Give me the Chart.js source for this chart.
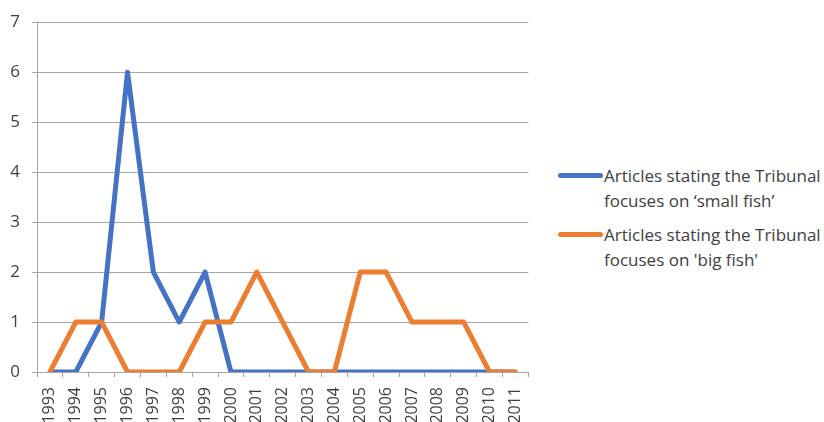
<!DOCTYPE html>
<html>
<head>
<meta charset="utf-8">
<script src="https://cdn.jsdelivr.net/npm/chart.js@4"></script>
<style>
  body { margin: 0; background: #fff; font-family: "Open Sans", sans-serif; }
  #wrap { position: relative; width: 824px; height: 422px; }
  #chartBox { position: absolute; left: 0; top: 0; width: 545px; height: 422px; }
  .legend { position: absolute; left: 558px; color: #404040; font-size: 17px; line-height: 25px; white-space: nowrap; }
  .legend .swatch { position: absolute; left: 0; top: 10px; width: 45px; height: 5px; border-radius: 3px; }
  .legend .text { margin-left: 46px; }
</style>
</head>
<body>
<div id="wrap">
  <div id="chartBox"><canvas id="lineChart"></canvas></div>
  <div class="legend" style="top:163px"><div class="swatch" style="background:#4472C4"></div><div class="text">Articles stating the Tribunal<br>focuses on ‘small fish’</div></div>
  <div class="legend" style="top:222px"><div class="swatch" style="background:#ED7D31"></div><div class="text">Articles stating the Tribunal<br>focuses on 'big fish'</div></div>
</div>
<script>
const years = ["1993", "1994", "1995", "1996", "1997", "1998", "1999", "2000", "2001", "2002",
               "2003", "2004", "2005", "2006", "2007", "2008", "2009", "2010", "2011"];
const smallFish = [0, 0, 1, 6, 2, 1, 2, 0, 0, 0, 0, 0, 0, 0, 0, 0, 0, 0, 0];
const bigFish   = [0, 1, 1, 0, 0, 0, 1, 1, 2, 1, 0, 0, 2, 2, 1, 1, 1, 0, 0];
const yTicks = [0, 1, 2, 3, 4, 5, 6, 7];

const gridColor = "#a6a6a6";
const textColor = "#404040";

new Chart(document.getElementById("lineChart"), {
    type: "line",
    data: {
        labels: years,
        datasets: [
            {
                label: "Articles stating the Tribunal focuses on ‘small fish’",
                data: smallFish,
                borderColor: "#4472C4",
                borderWidth: 5,
                borderJoinStyle: "round",
                pointRadius: 0,
                tension: 0,
                order: 1
            },
            {
                label: "Articles stating the Tribunal focuses on 'big fish'",
                data: bigFish,
                borderColor: "#ED7D31",
                borderWidth: 5,
                borderJoinStyle: "round",
                borderCapStyle: "round",
                pointRadius: 0,
                tension: 0,
                order: 0
            }
        ]
    },
    options: {
        responsive: true,
        maintainAspectRatio: false,
        animation: false,
        layout: { padding: { top: 16, right: 15, left: 0, bottom: 0 } },
        plugins: { legend: { display: false }, tooltip: { enabled: false } },
        scales: {
            x: {
                offset: true,
                grid: { offset: true, drawOnChartArea: false, drawTicks: true, tickLength: 5, color: gridColor },
                border: { color: gridColor },
                ticks: {
                    color: textColor,
                    font: { family: "Open Sans", size: 16 },
                    minRotation: 90,
                    maxRotation: 90,
                    autoSkip: false,
                    padding: 10
                },
                afterFit: scale => { scale.height = 50; }
            },
            y: {
                min: 0,
                max: 7,
                afterBuildTicks: scale => { scale.ticks = yTicks.map(v => ({ value: v })); },
                grid: { color: gridColor, tickLength: 5 },
                border: { color: gridColor },
                ticks: {
                    color: textColor,
                    font: { family: "Open Sans", size: 17 },
                    padding: 12
                },
                afterFit: scale => { scale.width = 37; }
            }
        }
    }
});
</script>
</body>
</html>
